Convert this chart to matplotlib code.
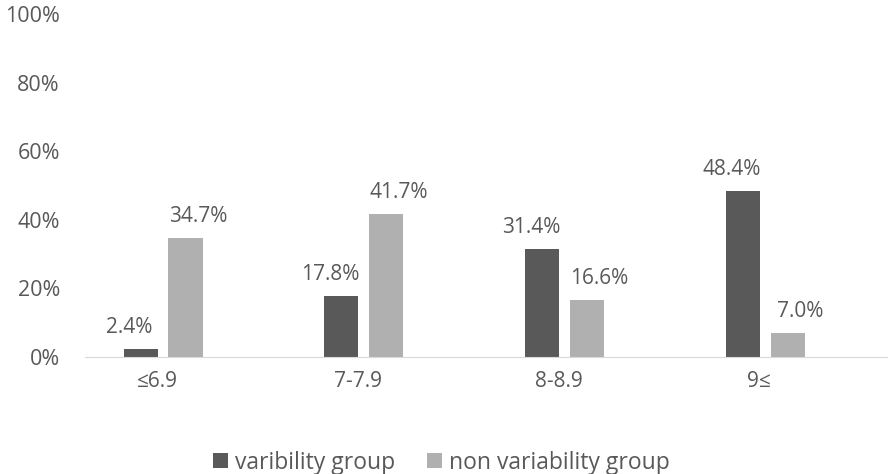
import matplotlib.pyplot as plt
from matplotlib.ticker import PercentFormatter

# values
categories = ['≤6.9', '7-7.9', '8-8.9', '9≤']
variability = [2.4, 17.8, 31.4, 48.4]
non_variability = [34.7, 41.7, 16.6, 7.0]
series_names = ['varibility group', 'non variability group']

dark = '#595959'
light = '#b0b0b0'
txt = '#595959'

plt.rcParams['font.family'] = ['Open Sans', 'DejaVu Sans']

fig = plt.figure(figsize=(8.91, 4.74), dpi=100)
ax = fig.add_axes([85 / 891, 117 / 474, 802 / 891, 343 / 474])

x = list(range(len(categories)))
w = 0.17
off = 0.112
b1 = ax.bar([i - off for i in x], [v / 100 for v in variability], w, color=dark, label=series_names[0])
b2 = ax.bar([i + off for i in x], [v / 100 for v in non_variability], w, color=light, label=series_names[1])

# data labels
for bars, vals, dx in ((b1, variability, -8), (b2, non_variability, 9)):
    for r, v in zip(bars, vals):
        ax.annotate(f'{v:.1f}%', (r.get_x() + r.get_width() / 2, r.get_height()),
                    xytext=(dx, 8), textcoords='offset points',
                    ha='center', va='bottom', fontsize=15, color=txt)

ax.set_xlim(-0.389, 3.607)
ax.set_ylim(0, 1)
ax.yaxis.set_major_formatter(PercentFormatter(1.0, decimals=0))
ax.set_yticks([0, 0.2, 0.4, 0.6, 0.8, 1.0])
ax.set_xticks([i - 0.03 for i in x])
ax.set_xticklabels(categories)

for s in ['top', 'right', 'left']:
    ax.spines[s].set_visible(False)
ax.spines['bottom'].set_color('#d9d9d9')
ax.tick_params(axis='y', length=0, pad=18, labelsize=15.5, labelcolor=txt)
ax.tick_params(axis='x', length=0, pad=10, labelsize=15, labelcolor=txt)

fig.legend(handles=[b1, b2], loc='lower center', bbox_to_anchor=(0.495, -0.045), ncol=2,
           frameon=False, fontsize=16.5, labelcolor=txt, handlelength=0.65, handleheight=0.65,
           handletextpad=0.3, columnspacing=1.4)

fig.savefig('out.png', dpi=100)
